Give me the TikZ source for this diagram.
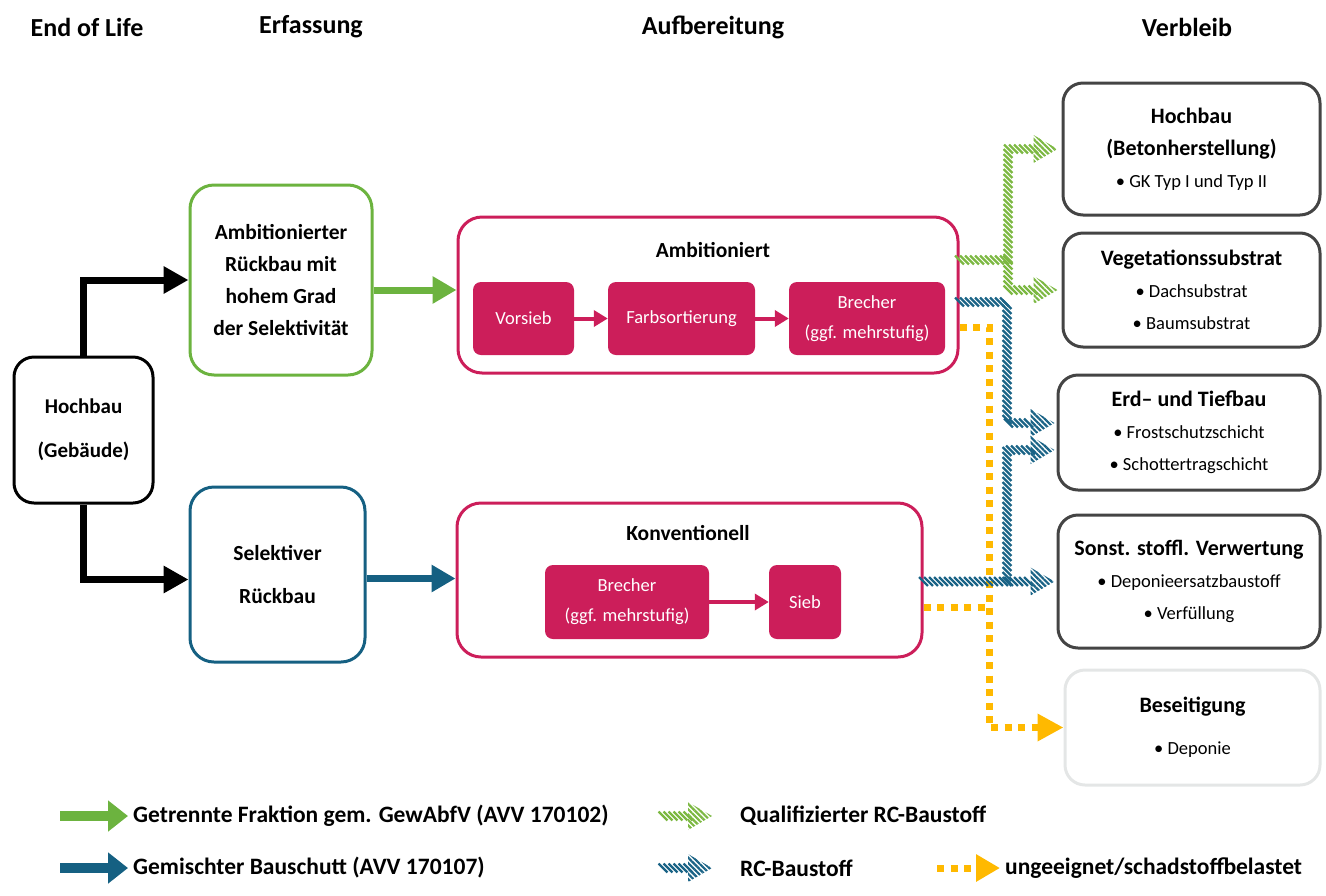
\documentclass[tikz,border=0pt]{standalone}
\usepackage{fontspec}
\setmainfont{Carlito}
\usetikzlibrary{arrows.meta, decorations.markings, patterns.meta}

\definecolor{crimson}{RGB}{204,30,90}
\definecolor{leafgreen}{RGB}{108,179,63}
\definecolor{petrol}{RGB}{21,96,130}
\definecolor{rcgreen}{RGB}{124,184,66}
\definecolor{rcblue}{RGB}{26,99,134}
\definecolor{amber}{RGB}{255,185,0}
\definecolor{slate}{RGB}{68,68,68}
\definecolor{mist}{RGB}{228,230,230}

\newcommand{\vbhead}[1]{{\fontsize{22}{32}\selectfont\bfseries #1}}

\tikzset{
  rc/.style={decoration={markings,
    mark=between positions 0 and -22pt step 5pt with {\pgftransformresetnontranslations
      \draw[#1,line width=2.4pt] (-4.4pt,4.4pt) -- (4.4pt,-4.4pt);},
    mark=at position 1 with {\pgftransformresetnontranslations
      \fill[pattern={Lines[angle=-45,distance=3.8pt,line width=2.2pt]},pattern color=#1]
        (-24pt,-14pt) -- (0pt,0pt) -- (-24pt,14pt) -- cycle;}},
    postaction={decorate}},
}

\begin{document}
\begin{tikzpicture}[x=1pt, y=-1pt,
  headline/.style={font=\fontsize{26}{30}\selectfont\bfseries},
  erfbox/.style={draw=#1, line width=3pt, rounded corners=24pt, align=center, inner sep=0pt},
  procbox/.style={draw=crimson, line width=3pt, rounded corners=24pt, inner sep=0pt},
  stepbox/.style={fill=crimson, text=white, rounded corners=8pt, align=center, inner sep=0pt, font=\fontsize{18.5}{30}\selectfont},
  vbbox/.style={draw=#1, line width=3pt, rounded corners=20pt, align=center, inner sep=0pt, font=\fontsize{18.5}{32}\selectfont},
  flow/.style={line width=7pt, -{Triangle[length=25pt,width=26pt]}},
  feed/.style={draw=#1, line width=7pt, -{Triangle[length=24pt,width=26pt]}},
  legfeed/.style={draw=#1, line width=10pt, -{Triangle[length=20pt,width=30pt]}},
  pinkarrow/.style={draw=crimson, line width=4pt, -{Triangle[length=14pt,width=16pt]}},
  unsuit/.style={draw=amber, line width=7pt, dash pattern=on 7pt off 6.5pt},
  legtext/.style={anchor=west, inner sep=0pt, font=\fontsize{23.5}{28}\selectfont\bfseries}]
\useasboundingbox (0,0) rectangle (1326,895);

\node[headline] (tEol) at (87,27) {End of Life};
\node[headline] (tErf) at (311,27) {Erfassung};
\node[headline] (tAuf) at (713,27) {Aufbereitung};
\node[headline] (tVer) at (1187,27) {Verbleib};

% Erfassung
\node[erfbox=black, minimum width=139pt, minimum height=146pt, rounded corners=20pt, font=\fontsize{21}{44}\selectfont\bfseries] (eol) at (83.5,430) {Hochbau\\(Gebäude)};
\node[erfbox=leafgreen, minimum width=182pt, minimum height=190pt, font=\fontsize{21.5}{31.7}\selectfont\bfseries] (erfA) at (281,280) {Ambitionierter\\Rückbau mit\\hohem Grad\\der Selektivität};
\node[erfbox=petrol, minimum width=175pt, minimum height=175pt, font=\fontsize{21.5}{43}\selectfont\bfseries] (erfB) at (277.5,574.5) {Selektiver\\Rückbau};
\draw[flow] (eol.north) |- (erfA.west);
\draw[flow] (eol.south) |- ([yshift=-5pt]erfB.west);

% Aufbereitung
\node[procbox, minimum width=500pt, minimum height=156pt] (amb) at (708,295) {};
\node[font=\fontsize{21.5}{26}\selectfont\bfseries] (ambT) at (713,250) {Ambitioniert};
\node[stepbox, minimum width=101pt, minimum height=73pt] (vorsieb) at (523.5,318.5) {Vorsieb};
\node[stepbox, minimum width=147pt, minimum height=73pt] (farb) at (681.5,318.5) {Farbsortierung};
\node[stepbox, minimum width=156pt, minimum height=73pt] (brecherA) at (867,318.5) {Brecher\\(ggf. mehrstufig)};
\draw[pinkarrow] (vorsieb.east) -- (farb.west);
\draw[pinkarrow] (farb.east) -- (brecherA.west);

\node[procbox, minimum width=465pt, minimum height=154pt] (konv) at (689.5,580) {};
\node[font=\fontsize{21.5}{26}\selectfont\bfseries] (konvT) at (688,533) {Konventionell};
\node[stepbox, minimum width=164pt, minimum height=74pt] (brecherB) at (627,602) {Brecher\\(ggf. mehrstufig)};
\node[stepbox, minimum width=72pt, minimum height=74pt] (sieb) at (805,602) {Sieb};
\draw[pinkarrow] (brecherB.east) -- (sieb.west);

\coordinate (gfeed) at ([yshift=-10pt]erfA.east);
\coordinate (bfeed) at ([yshift=-4pt]erfB.east);
\draw[feed=leafgreen] (gfeed) -- (gfeed -| amb.west);
\draw[feed=petrol] (bfeed) -- (bfeed -| konv.west);

% Verbleib
\node[vbbox=slate, minimum width=257pt, minimum height=132pt] (hochbau) at (1191.5,149) {\vbhead{Hochbau}\\\vbhead{(Betonherstellung)}\\\textbullet\ GK Typ I und Typ II};
\node[vbbox=slate, minimum width=257pt, minimum height=114pt] (veg) at (1191.5,290) {\vbhead{Vegetationssubstrat}\\\textbullet\ Dachsubstrat\\\textbullet\ Baumsubstrat};
\node[vbbox=slate, minimum width=262pt, minimum height=115pt] (erd) at (1189,432.5) {\vbhead{Erd– und Tiefbau}\\\textbullet\ Frostschutzschicht\\\textbullet\ Schottertragschicht};
\node[vbbox=slate, minimum width=262pt, minimum height=133pt] (sonst) at (1189,581.5) {\vbhead{Sonst. stoffl. Verwertung}\\\textbullet\ Deponieersatzbaustoff\\\textbullet\ Verfüllung};
\node[vbbox=mist, minimum width=255pt, minimum height=115pt, font=\fontsize{18.5}{42}\selectfont] (beseit) at (1192.5,727.5) {\vbhead{Beseitigung}\\\textbullet\ Deponie};

% ungeeignet
\coordinate (ybus) at (989,500);
\coordinate (aout) at ([yshift=-32pt]amb.east);
\coordinate (kout) at ([yshift=-27pt]konv.east);
\draw[unsuit, -{Triangle[length=26pt,width=26pt]}] (aout) -| (ybus) |- (beseit.west);
\draw[unsuit] (kout) -- (kout -| ybus);

% RC-Baustoffe
\coordinate (gsplit) at (1008,260);
\coordinate (bsplitA) at (1007,302);
\coordinate (bsplitB) at (1007,581.5);
\path[rc=rcgreen] (gsplit -| amb.east) -- (gsplit) |- ([xshift=-4pt]hochbau.west);
\path[rc=rcgreen] (gsplit) |- ([xshift=-4pt]veg.west);
\path[rc=rcblue] (bsplitA -| amb.east) -- (bsplitA) |- ([xshift=-2pt,yshift=9.5pt]erd.west);
\path[rc=rcblue] (bsplitB -| konv.east) -- ([xshift=-2pt]sonst.west);
\path[rc=rcblue] (bsplitB) |- ([xshift=-2pt,yshift=-17.5pt]erd.west);

% Legende
\node[legtext] (legA) at (133,816) {Getrennte Fraktion gem. GewAbfV (AVV 170102)};
\node[legtext] (legB) at (133,868) {Gemischter Bauschutt (AVV 170107)};
\node[legtext] (legC) at (740,816) {Qualifizierter RC-Baustoff};
\node[legtext] (legD) at (740,868) {RC-Baustoff};
\node[legtext] (legE) at (1005,868) {ungeeignet/schadstoffbelastet};
\coordinate (lsA) at (60,816);
\coordinate (lsB) at (60,868);
\coordinate (lsC) at (663,816);
\coordinate (lsD) at (663,868);
\coordinate (lsE) at (937,868);
\draw[legfeed=leafgreen] (lsA) -- ([xshift=-5pt]legA.west);
\draw[legfeed=petrol] (lsB) -- ([xshift=-5pt]legB.west);
\path[rc=rcgreen] (lsC) -- ([xshift=-28pt]legC.west);
\path[rc=rcblue] (lsD) -- ([xshift=-28pt]legD.west);
\draw[unsuit, -{Triangle[length=24pt,width=26pt]}] (lsE) -- ([xshift=-5pt]legE.west);
\end{tikzpicture}
\end{document}
